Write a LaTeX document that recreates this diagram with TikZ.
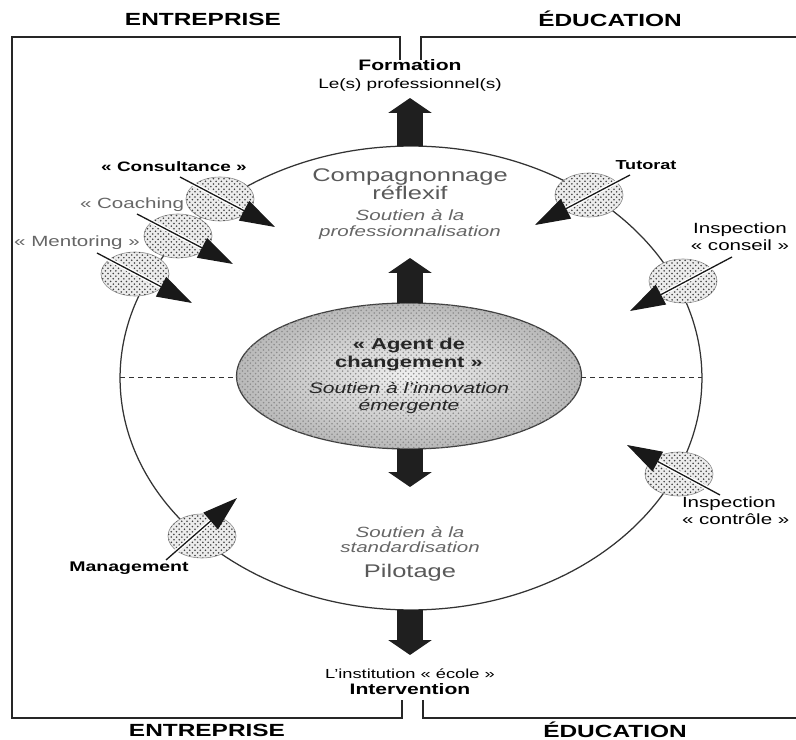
\documentclass[tikz,border=0pt]{standalone}
\usepackage{fontspec}
\setmainfont{Liberation Sans}
\usepackage{graphicx}
\usetikzlibrary{arrows.meta,shapes.geometric,patterns}
\newcommand{\sq}[1]{\scalebox{1}[0.72]{#1}}
\newcommand{\fs}[2]{\fontsize{#1}{#2}\selectfont}
\begin{document}
\begin{tikzpicture}[x=0.02cm,y=-0.02cm,
  every node/.style={inner sep=0pt, outer sep=0pt},
  frame/.style={line width=0.036cm, black!85},
  cyc/.style={ellipse, draw=black!80, line width=0.025cm, minimum width=11.64cm, minimum height=9.28cm},
  agentell/.style={ellipse, draw=black!75, line width=0.025cm, minimum width=6.9cm, minimum height=2.92cm,
     shading=radial, inner color=gray!12, outer color=gray!55,
     postaction={pattern=crosshatch dots, pattern color=black!45}},
  blob/.style={ellipse, draw=black!45, line width=0.012cm, minimum width=1.36cm, minimum height=0.88cm,
     fill=gray!15, postaction={pattern=crosshatch dots, pattern color=black!75}},
  bigarrow/.style={line width=0.54cm, black!88, -{Triangle[length=0.3cm,width=0.86cm]}},
  halo/.style={white, line width=0.08cm, shorten >=0.7cm},
  diag/.style={black!90, line width=0.026cm, -{Triangle[length=0.7cm,width=0.44cm]}},
  dashline/.style={black!80, line width=0.02cm, dash pattern=on 0.1cm off 0.08cm},
  head/.style={font=\fs{13.9}{16}\bfseries},
  lbl/.style={font=\fs{11.7}{9.7}},
  blbl/.style={font=\fs{10.8}{9.7}\bfseries},
  glbl/.style={font=\fs{11.7}{9.7}, text=black!60},
  big/.style={font=\fs{14.5}{10.2}, text=black!65},
  ital/.style={font=\fs{11.7}{8.8}\itshape, text=black!60}
]
\useasboundingbox (0,0) rectangle (796,740);

% frame
\draw[frame] (400,60) -- (400,37) -- (12,37) -- (12,718) -- (402,718) -- (402,700);
\draw[frame] (421,60) -- (421,37) -- (796,37);
\draw[frame] (423,700) -- (423,718) -- (796,718);

\node[head] (entT) at (203,19) {\sq{ENTREPRISE}};
\node[head] (eduT) at (610,19) {\sq{ÉDUCATION}};
\node[head] (entB) at (207,730) {\sq{ENTREPRISE}};
\node[head] (eduB) at (615,730) {\sq{ÉDUCATION}};

% main cycle
\node[cyc] (cycle) at (411,378) {};
\node[agentell, align=center, font=\fs{12.5}{10.2}, text=black!85] (agent) at (409,376)
  {\sq{\bfseries « Agent de}\\\sq{\bfseries changement »}\\[4.5pt]\sq{\fs{12}{10.2}\itshape Soutien à l'innovation}\\\sq{\fs{12}{10.2}\itshape émergente}};

\draw[dashline] (cycle.west) -- (agent.west |- cycle.west);
\draw[dashline] (agent.east |- cycle.east) -- (cycle.east);

% texts
\node[align=center, font=\fs{10.8}{10.2}] (form) at (410,75)
  {\sq{\fs{12}{10.2}\bfseries Formation}\\\sq{Le(s) professionnel(s)}};
\node[big, align=center] (comp) at (410,184) {\sq{Compagnonnage}\\\sq{réflexif}};
\node[ital, align=center, font=\fs{11.7}{9.1}\itshape] (sprof) at (410,225) {\sq{Soutien à la}\\\sq{professionnalisation}};
\node[ital, align=center, font=\fs{11.7}{8.5}\itshape] (sstd) at (410,540) {\sq{Soutien à la}\\\sq{standardisation}};
\node[big] (pilot) at (410,573) {\sq{Pilotage}};
\node[align=center, font=\fs{10.4}{9.1}] (inst) at (410,682)
  {\sq{L'institution « école »}\\\sq{\fs{12}{9.1}\bfseries Intervention}};

\coordinate (t1) at (410,98);
\coordinate (t2) at (410,258);
\coordinate (t3) at (410,487);
\coordinate (t4) at (410,655);
\draw[bigarrow] (cycle.north -| t1) -- (t1);
\draw[bigarrow] (agent.north -| t2) -- (t2);
\draw[bigarrow] (agent.south -| t3) -- (t3);
\draw[bigarrow] (cycle.south -| t4) -- (t4);

% blobs
\node[blob] (cons) at (220,199) {};
\node[blob] (coach) at (178,236) {};
\node[blob] (ment) at (135,274) {};
\node[blob] (tut) at (589,195) {};
\node[blob] (iconseil) at (683,281) {};
\node[blob] (icontrole) at (679,474) {};
\node[blob] (mgmt) at (202,536) {};

\coordinate (consS) at (180,177);  \coordinate (consT) at (275,227);
\coordinate (coachS) at (137,214); \coordinate (coachT) at (233,264);
\coordinate (mentS) at (97,253);   \coordinate (mentT) at (192,303);
\coordinate (tutS) at (630,175);   \coordinate (tutT) at (535,225);
\coordinate (icsS) at (732,257);   \coordinate (icsT) at (630,311);
\coordinate (ictS) at (720,495);   \coordinate (ictT) at (627,445);
\coordinate (mgS) at (166,560);    \coordinate (mgT) at (237,498);

\foreach \a in {cons,coach,ment,tut,ics,ict,mg}{
  \draw[halo] (\a S) -- (\a T);
  \draw[diag] (\a S) -- (\a T);
}

% blob labels
\node[blbl] (lcons) at (174,167) {\sq{« Consultance »}};
\node[glbl] (lcoach) at (132,205) {\sq{« Coaching}};
\node[glbl] (lment) at (77,243) {\sq{« Mentoring »}};
\node[blbl, font=\fs{10.3}{9.7}\bfseries] (ltut) at (646,165) {\sq{Tutorat}};
\node[lbl, align=center] (lics) at (740,237) {\sq{Inspection}\\\sq{« conseil »}};
\node[lbl, align=left, anchor=west] (lict) at (682,511) {\sq{Inspection}\\\sq{« contrôle »}};
\node[blbl, font=\fs{11.1}{9.7}\bfseries] (lmg) at (129,568) {\sq{Management}};
\end{tikzpicture}
\end{document}
